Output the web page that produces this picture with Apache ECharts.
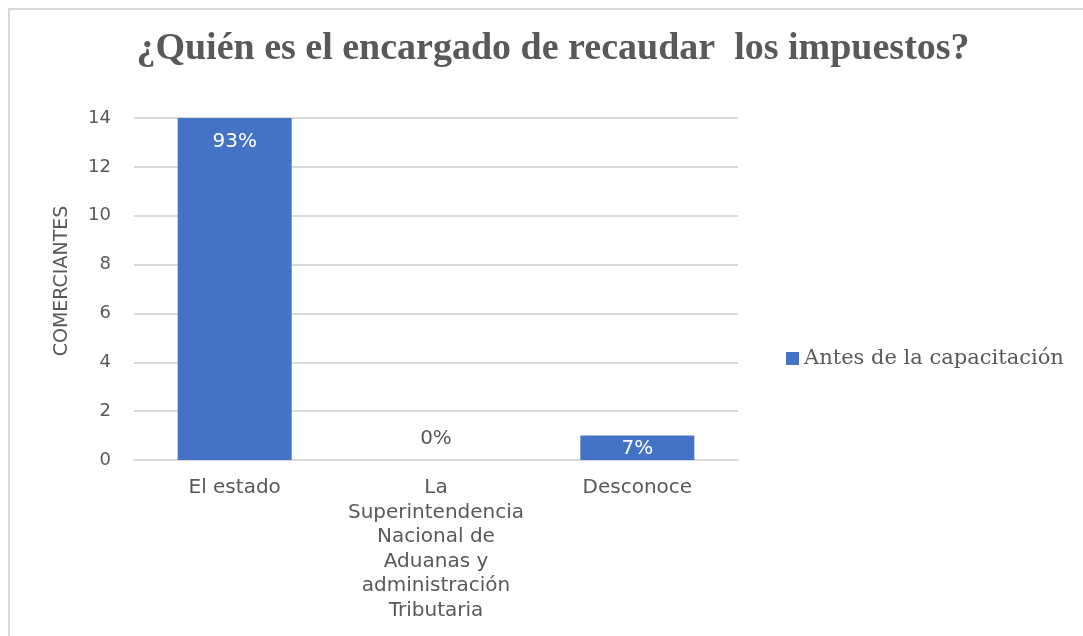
<!DOCTYPE html>
<html>
<head>
<meta charset="utf-8">
<script src="https://cdn.jsdelivr.net/npm/echarts@6/dist/echarts.min.js"></script>
<style>
    html, body { margin: 0; padding: 0; background: #fff; overflow: hidden; }
    .frame {
        position: absolute;
        left: 8px;
        top: 8px;
        right: 0;
        bottom: 0;
        border-top: 2px solid #d9d9d9;
        border-left: 2px solid #d9d9d9;
    }
    #chart { position: absolute; left: 0; top: 0; width: 1083px; height: 636px; }
</style>
</head>
<body>
<div class="frame"></div>
<div id="chart"></div>
<script>
const categories = [
    'El estado',
    'La\nSuperintendencia\nNacional de\nAduanas y\nadministración\nTributaria',
    'Desconoce'
];
const values = [14, 0, 1];
const pctLabels = ['93%', '0%', '7%'];
const seriesName = 'Antes de la capacitación';

const chart = echarts.init(document.getElementById('chart'));

let barData = values.map((v, i) => {
    let label;
    if (v === 0) {
        label = { show: true, position: 'top', distance: 11, color: '#595959' };
    } else if (v < 2) {
        label = { show: true, position: 'inside', offset: [0, 1], color: '#fff' };
    } else {
        label = { show: true, position: 'insideTop', distance: 14, color: '#fff' };
    }
    label.formatter = pctLabels[i];
    return { value: v, label: label };
});

let option = {
    title: {
        text: '¿Quién es el encargado de recaudar  los impuestos?',
        left: 548,
        top: 25,
        textAlign: 'center',
        textStyle: {
            fontFamily: 'Liberation Serif',
            fontWeight: 'bold',
            fontSize: 38,
            color: '#595959'
        }
    },
    grid: {
        left: 134,
        right: 345,
        top: 118,
        bottom: 176
    },
    legend: {
        data: [seriesName],
        left: 781,
        top: 343,
        icon: 'rect',
        itemWidth: 13,
        itemHeight: 13,
        itemGap: 7,
        textStyle: {
            fontFamily: 'DejaVu Serif',
            fontSize: 21,
            color: '#595959'
        }
    },
    xAxis: {
        type: 'category',
        data: categories,
        axisLine: { lineStyle: { color: '#d9d9d9', width: 2 } },
        axisTick: { show: false },
        axisLabel: {
            interval: 0,
            margin: 16,
            fontFamily: 'DejaVu Sans',
            fontSize: 20,
            lineHeight: 24.5,
            color: '#595959'
        }
    },
    yAxis: {
        type: 'value',
        min: 0,
        max: 14,
        interval: 2,
        name: 'COMERCIANTES',
        nameLocation: 'middle',
        nameRotate: 90,
        nameGap: 62,
        nameTextStyle: {
            fontFamily: 'DejaVu Sans',
            fontSize: 19,
            color: '#595959',
            padding: [0, 0, 0, 16]
        },
        axisLabel: {
            margin: 23,
            fontFamily: 'DejaVu Sans',
            fontSize: 18,
            color: '#595959'
        },
        splitLine: { lineStyle: { color: '#d9d9d9', width: 2 } }
    },
    series: [
        {
            name: seriesName,
            type: 'bar',
            barWidth: 114,
            itemStyle: { color: '#4472c4' },
            label: { fontFamily: 'DejaVu Sans', fontSize: 20 },
            data: barData
        }
    ]
};
chart.setOption(option);
window.addEventListener('resize', () => {
    chart.resize();
});
</script>
</body>
</html>
